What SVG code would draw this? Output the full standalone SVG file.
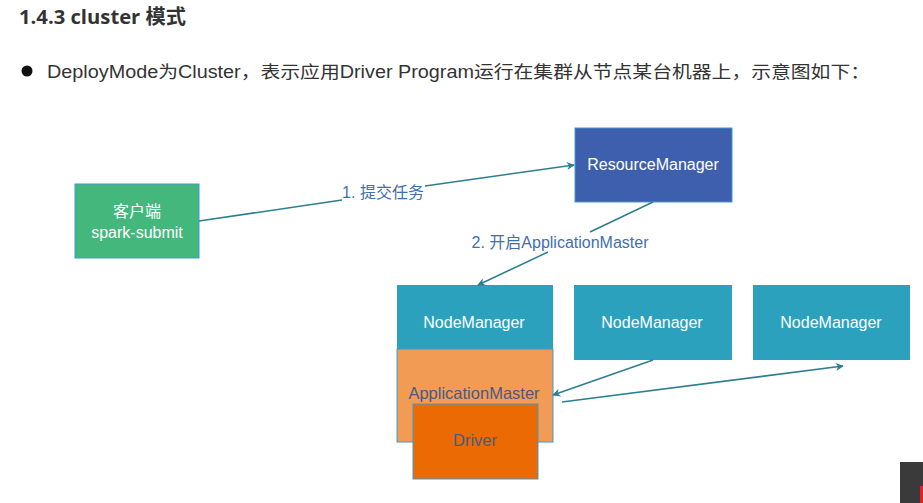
<svg xmlns="http://www.w3.org/2000/svg" width="923" height="503" viewBox="0 0 923 503">
<style>
.h{font-family:"Open Sans","Liberation Sans","Noto Sans CJK SC",sans-serif;font-weight:bold;font-size:20px;fill:#333}
.p{font-family:"Liberation Sans","Noto Sans CJK SC",sans-serif;font-size:17.5px;fill:#333}
.box{stroke:#3f9bd0;stroke-width:1}
.nt{font-family:"Liberation Sans","Noto Sans CJK SC",sans-serif;font-size:16px;fill:#fff;text-anchor:middle;dominant-baseline:central}
.dt{font-family:"Liberation Sans","Noto Sans CJK SC",sans-serif;font-size:16.5px;fill:#4a5a82;text-anchor:middle;dominant-baseline:central}
.lb{font-family:"Liberation Sans","Noto Sans CJK SC",sans-serif;font-size:16px;fill:#3f6fae;text-anchor:middle;dominant-baseline:central}
.c{stroke:#2c7f8f;stroke-width:1.5;fill:none}
</style>
<defs>
<marker id="ah" viewBox="0 0 10 10" refX="9" refY="5" markerWidth="8" markerHeight="8" markerUnits="userSpaceOnUse" orient="auto">
<path d="M0,0 L10,5 L0,10 L3,5 Z" fill="#2c7f8f"/>
</marker>
</defs>
<rect width="923" height="503" fill="#fff"/>
<text class="h" x="19" y="24" textLength="167" lengthAdjust="spacingAndGlyphs">1.4.3 cluster 模式</text>
<circle cx="27" cy="71" r="5.5" fill="#111"/>
<text class="p" x="47" y="78" textLength="823" lengthAdjust="spacingAndGlyphs">DeployMode为Cluster，表示应用Driver Program运行在集群从节点某台机器上，示意图如下：</text>

<g id="client">
<rect class="box" x="75" y="184" width="124" height="74" fill="#44b87c"/>
<text class="nt" x="137" y="211">客户端</text>
<text class="nt" x="137" y="232">spark-submit</text>
</g>
<g id="resourcemanager">
<rect class="box" x="575" y="128" width="157" height="74" fill="#3d5fad"/>
<text class="nt" x="653" y="164">ResourceManager</text>
</g>
<g id="nodemanager1">
<rect x="397" y="285" width="156" height="65" fill="#2ca1be"/>
<text class="nt" x="474" y="322">NodeManager</text>
</g>
<g id="applicationmaster">
<rect class="box" x="397" y="349" width="156" height="93" fill="#f29b55"/>
<text class="dt" x="474" y="393">ApplicationMaster</text>
</g>
<g id="driver">
<rect class="box" x="413" y="404" width="125" height="75" fill="#eb6a04"/>
<text class="dt" x="475" y="440">Driver</text>
</g>
<g id="nodemanager2">
<rect x="574" y="285" width="158" height="75" fill="#2ca1be"/>
<text class="nt" x="652" y="322">NodeManager</text>
</g>
<g id="nodemanager3">
<rect x="753" y="285" width="157" height="75" fill="#2ca1be"/>
<text class="nt" x="831" y="322">NodeManager</text>
</g>

<g id="connectors">
<path class="c" d="M199,221 L342,200"/>
<path class="c" d="M425,186 L574,165" marker-end="url(#ah)"/>
<text class="lb" x="383" y="192">1. 提交任务</text>
<path class="c" d="M653,202 L590,232"/>
<path class="c" d="M548,252 L478,285" marker-end="url(#ah)"/>
<text class="lb" x="560" y="242">2. 开启ApplicationMaster</text>
<path class="c" d="M653,360 L553,395" marker-end="url(#ah)"/>
<path class="c" d="M562,402 L843,366" marker-end="url(#ah)"/>
</g>

<rect x="900" y="462" width="23" height="41" fill="#3a3a3a"/>
<rect x="920" y="486" width="3" height="17" fill="#e0202a"/>
</svg>
